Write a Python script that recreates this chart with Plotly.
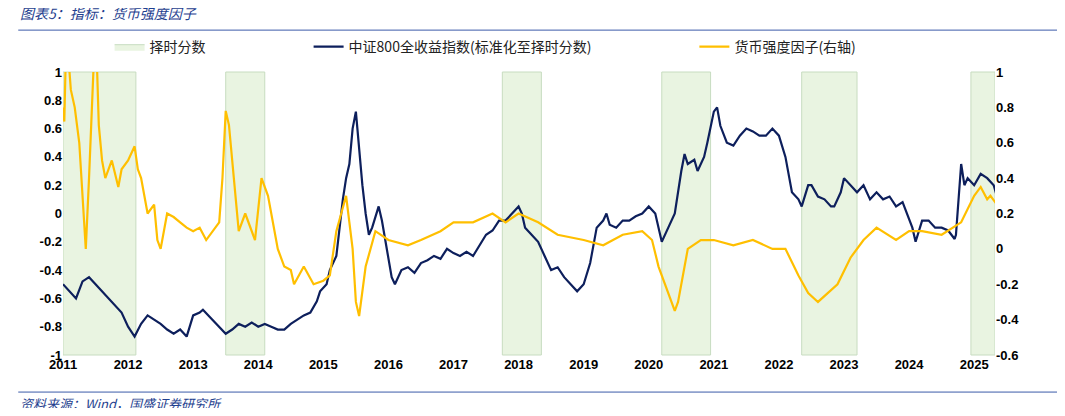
import plotly.graph_objects as go

# 中证800全收益指数(标准化至择时分数) - left axis
idx_t = [2011.0, 2011.1, 2011.2, 2011.3, 2011.4, 2011.5, 2011.6, 2011.7, 2011.8, 2011.9, 2012.0, 2012.1,
         2012.2, 2012.3, 2012.4, 2012.5, 2012.6, 2012.7, 2012.8, 2012.9, 2013.0, 2013.1, 2013.15, 2013.3,
         2013.4, 2013.5, 2013.6, 2013.7, 2013.8, 2013.9, 2014.0, 2014.1, 2014.2, 2014.3, 2014.4, 2014.5,
         2014.6, 2014.7, 2014.8, 2014.9, 2014.95, 2015.05, 2015.1, 2015.2, 2015.3, 2015.35, 2015.4, 2015.45,
         2015.5, 2015.55, 2015.6, 2015.65, 2015.7, 2015.75, 2015.85, 2015.9, 2016.0, 2016.05, 2016.1, 2016.2,
         2016.3, 2016.4, 2016.5, 2016.6, 2016.7, 2016.8, 2016.9, 2017.0, 2017.1, 2017.2, 2017.3, 2017.4,
         2017.5, 2017.6, 2017.7, 2017.8, 2017.9, 2018.0, 2018.05, 2018.1, 2018.2, 2018.3, 2018.4, 2018.5,
         2018.6, 2018.7, 2018.8, 2018.9, 2019.0, 2019.1, 2019.2, 2019.3, 2019.35, 2019.4, 2019.5, 2019.6,
         2019.7, 2019.8, 2019.9, 2020.0, 2020.1, 2020.2, 2020.3, 2020.4, 2020.5, 2020.55, 2020.6, 2020.7,
         2020.75, 2020.85, 2020.9, 2021.0, 2021.05, 2021.1, 2021.2, 2021.3, 2021.4, 2021.5, 2021.6, 2021.7,
         2021.8, 2021.9, 2022.0, 2022.1, 2022.2, 2022.3, 2022.35, 2022.45, 2022.5, 2022.6, 2022.7, 2022.8,
         2022.85, 2022.95, 2023.0, 2023.1, 2023.2, 2023.3, 2023.4, 2023.5, 2023.6, 2023.7, 2023.8, 2023.9,
         2024.0, 2024.05, 2024.1, 2024.2, 2024.3, 2024.4, 2024.5, 2024.6, 2024.7, 2024.72, 2024.8, 2024.85,
         2024.9, 2025.0, 2025.1, 2025.2, 2025.3, 2025.35, 2025.4, 2025.45]
idx_v = [-0.5, -0.55, -0.6, -0.48, -0.45, -0.5, -0.55, -0.6, -0.65, -0.7, -0.8, -0.87,
         -0.78, -0.72, -0.75, -0.78, -0.82, -0.85, -0.82, -0.87, -0.72, -0.7, -0.68, -0.75,
         -0.8, -0.85, -0.82, -0.78, -0.8, -0.77, -0.8, -0.78, -0.8, -0.82, -0.82, -0.78,
         -0.75, -0.72, -0.7, -0.62, -0.55, -0.5, -0.4, -0.3, 0.1, 0.25, 0.35, 0.6,
         0.72, 0.45, 0.2, 0.0, -0.15, -0.1, 0.05, -0.05, -0.3, -0.45, -0.5, -0.4,
         -0.38, -0.42, -0.35, -0.33, -0.3, -0.32, -0.25, -0.28, -0.3, -0.27, -0.3, -0.22,
         -0.15, -0.12, -0.05, -0.05, 0.0, 0.05, 0.0, -0.1, -0.15, -0.2, -0.3, -0.4,
         -0.38, -0.45, -0.5, -0.55, -0.5, -0.35, -0.1, -0.05, 0.0, -0.08, -0.1, -0.05,
         -0.05, -0.02, 0.0, 0.05, 0.0, -0.2, -0.1, 0.0, 0.3, 0.42, 0.35, 0.38,
         0.3, 0.4, 0.5, 0.72, 0.75, 0.62, 0.5, 0.48, 0.55, 0.6, 0.58, 0.55,
         0.55, 0.6, 0.55, 0.4, 0.15, 0.1, 0.05, 0.2, 0.2, 0.12, 0.1, 0.05,
         0.05, 0.15, 0.25, 0.2, 0.15, 0.2, 0.1, 0.15, 0.1, 0.12, 0.05, 0.08,
         -0.05, -0.1, -0.2, -0.05, -0.05, -0.1, -0.1, -0.12, -0.18, -0.15, 0.35, 0.2,
         0.25, 0.2, 0.28, 0.25, 0.2, 0.12, 0.15, 0.15]

# 货币强度因子 - right axis
fac_t = [2011.0, 2011.02, 2011.05, 2011.08, 2011.12, 2011.18, 2011.25, 2011.3, 2011.35, 2011.4, 2011.45, 2011.5,
         2011.55, 2011.6, 2011.65, 2011.75, 2011.85, 2011.9, 2012.0, 2012.1, 2012.15, 2012.2, 2012.3, 2012.4,
         2012.45, 2012.5, 2012.6, 2012.7, 2012.8, 2012.9, 2013.0, 2013.1, 2013.2, 2013.3, 2013.4, 2013.45,
         2013.5, 2013.55, 2013.6, 2013.7, 2013.8, 2013.95, 2014.05, 2014.1, 2014.15, 2014.3, 2014.4, 2014.5,
         2014.55, 2014.7, 2014.85, 2015.0, 2015.1, 2015.2, 2015.35, 2015.4, 2015.45, 2015.5, 2015.55, 2015.65,
         2015.8, 2016.0, 2016.3, 2016.5, 2016.8, 2017.0, 2017.3, 2017.6, 2017.8, 2018.0, 2018.3, 2018.6,
         2019.0, 2019.3, 2019.6, 2019.9, 2020.05, 2020.15, 2020.3, 2020.4, 2020.45, 2020.5, 2020.6, 2020.8,
         2021.0, 2021.3, 2021.6, 2021.9, 2022.1, 2022.3, 2022.45, 2022.6, 2022.75, 2022.9, 2023.1, 2023.3,
         2023.5, 2023.8, 2024.0, 2024.2, 2024.5, 2024.8, 2025.0, 2025.1, 2025.2, 2025.25, 2025.35, 2025.45]
fac_v = [0.8, 0.72, 1.2, 1.1, 0.9, 0.8, 0.6, 0.3, 0.0, 0.4, 0.8, 1.3,
         0.7, 0.5, 0.4, 0.5, 0.35, 0.45, 0.5, 0.58, 0.45, 0.4, 0.2, 0.25,
         0.05, 0.0, 0.2, 0.18, 0.15, 0.12, 0.1, 0.12, 0.05, 0.1, 0.15, 0.4,
         0.78, 0.7, 0.5, 0.1, 0.2, 0.05, 0.4, 0.35, 0.3, 0.0, -0.1, -0.12,
         -0.2, -0.1, -0.2, -0.18, -0.15, 0.1, 0.3, 0.15, 0.0, -0.3, -0.38, -0.1,
         0.1, 0.05, 0.02, 0.05, 0.1, 0.15, 0.15, 0.2, 0.15, 0.2, 0.15, 0.08,
         0.05, 0.02, 0.08, 0.1, 0.05, -0.1, -0.25, -0.35, -0.3, -0.2, 0.0, 0.05,
         0.05, 0.02, 0.05, 0.0, 0.0, -0.15, -0.25, -0.3, -0.25, -0.2, -0.05, 0.05,
         0.12, 0.05, 0.1, 0.1, 0.08, 0.15, 0.3, 0.35, 0.28, 0.3, 0.25, 0.22]

# 择时分数 shaded periods
shade_start = [2011.0, 2013.5, 2017.75, 2020.2, 2022.35, 2024.95]
shade_end = [2012.12, 2014.1, 2018.35, 2020.95, 2023.2, 2025.32]

year_ticks = list(range(2011, 2026))
left_ticks = [-1, -0.8, -0.6, -0.4, -0.2, 0, 0.2, 0.4, 0.6, 0.8, 1]
right_ticks = [-0.6, -0.4, -0.2, 0, 0.2, 0.4, 0.6, 0.8, 1]

NAVY = '#0d1f5c'
GOLD = '#ffbf00'
SHADE = '#e9f4e1'
PAD = '\u3000' * 7  # spacing between legend entries

fig = go.Figure()

fig.add_trace(go.Scatter(x=[None], y=[None], mode='lines', fill='toself', name='择时分数' + PAD,
                         fillcolor=SHADE, line=dict(color='#c7dcc0', width=1)))
fig.add_trace(go.Scatter(x=idx_t, y=idx_v, mode='lines', name='中证800全收益指数(标准化至择时分数)' + PAD,
                         line=dict(color=NAVY, width=2.2)))
fig.add_trace(go.Scatter(x=fac_t, y=fac_v, mode='lines', name='货币强度因子(右轴)',
                         line=dict(color=GOLD, width=2.2), yaxis='y2'))

shapes = []
for s, e in zip(shade_start, shade_end):
    shapes.append(dict(type='rect', xref='x', yref='paper', x0=s, x1=e, y0=0, y1=1,
                       fillcolor=SHADE, line=dict(color='#c7dcc0', width=1), layer='below'))
# header/footer rules
shapes.append(dict(type='line', xref='paper', yref='paper', x0=-0.048, x1=1.07, y0=1.148, y1=1.148,
                   line=dict(color='#3b5ba9', width=1)))
shapes.append(dict(type='line', xref='paper', yref='paper', x0=-0.048, x1=1.07, y0=-0.131, y1=-0.131,
                   line=dict(color='#3b5ba9', width=1)))

tick_font = dict(family='Liberation Sans, Arial', size=13, color='black')

fig.update_layout(
    width=1049, height=400,
    margin=dict(l=55, r=62, t=64, b=53),
    plot_bgcolor='white', paper_bgcolor='white',
    shapes=shapes,
    showlegend=True,
    legend=dict(orientation='h', x=0.05, xanchor='left', y=1.088, yanchor='middle',
                font=dict(family='Noto Sans CJK SC', size=14, color='#222')),
    xaxis=dict(range=[2011, 2025.32], tickmode='array', tickvals=year_ticks,
               ticktext=[f'<b>{y}</b>' for y in year_ticks], tickfont=tick_font,
               showgrid=False, zeroline=False, showline=False, ticks=''),
    yaxis=dict(range=[-1, 1], tickmode='array', tickvals=left_ticks,
               ticktext=['<b>%g</b>' % v for v in left_ticks],
               tickfont=tick_font, showgrid=False, zeroline=False, showline=False, ticks=''),
    yaxis2=dict(range=[-0.6, 1], overlaying='y', side='right', tickmode='array',
                tickvals=right_ticks, ticktext=['<b>%g</b>' % v for v in right_ticks],
                tickfont=tick_font, showgrid=False, zeroline=False, showline=False, ticks=''),
    annotations=[
        dict(text='<i>图表5：指标：货币强度因子</i>', xref='paper', yref='paper', x=-0.048, y=1.208,
             xanchor='left', yanchor='middle', showarrow=False,
             font=dict(family='Noto Sans CJK SC', size=14, color='#1f3f8f')),
        dict(text='<i>资料来源：Wind，国盛证券研究所</i>', xref='paper', yref='paper', x=-0.048, y=-0.17,
             xanchor='left', yanchor='middle', showarrow=False,
             font=dict(family='Noto Sans CJK SC', size=13, color='#1f3f8f')),
    ],
)

fig.write_html('out.html')
